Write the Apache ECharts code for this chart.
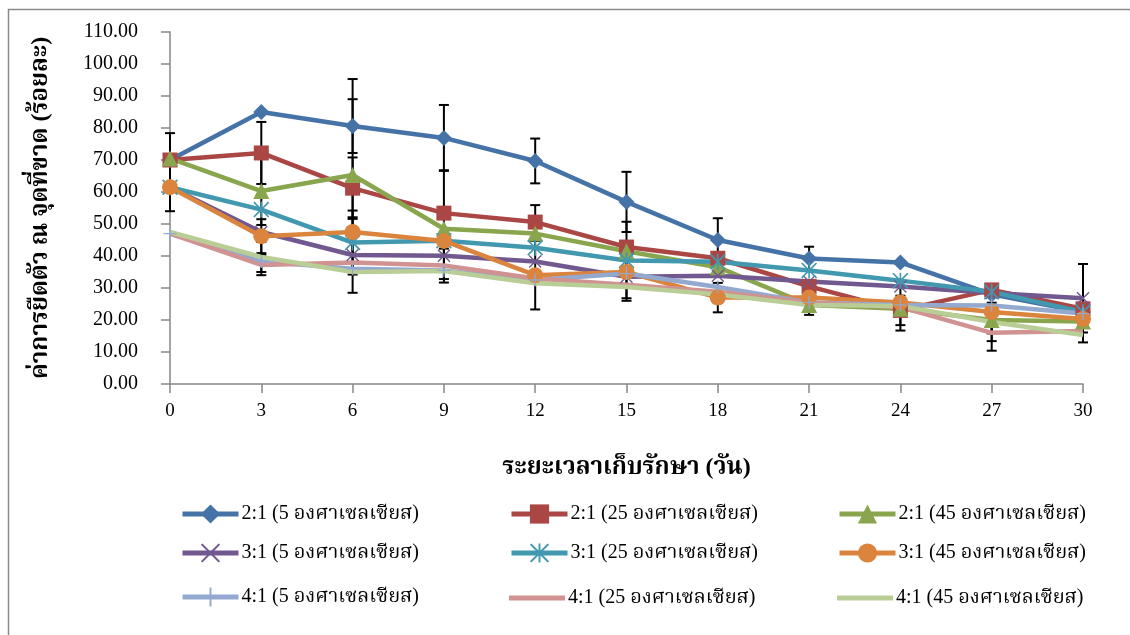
<!DOCTYPE html>
<html>
<head>
<meta charset="utf-8">
<script src="https://cdn.jsdelivr.net/npm/echarts@6/dist/echarts.min.js"></script>
<style>html,body{margin:0;padding:0;background:#fff}#c{width:1130px;height:635px}</style>
</head>
<body>
<div id="c"></div>
<script>
const days = ['0','3','6','9','12','15','18','21','24','27','30'];
const seriesNames = [
  '2:1 (5 องศาเซลเซียส)','2:1 (25 องศาเซลเซียส)','2:1 (45 องศาเซลเซียส)',
  '3:1 (5 องศาเซลเซียส)','3:1 (25 องศาเซลเซียส)','3:1 (45 องศาเซลเซียส)',
  '4:1 (5 องศาเซลเซียส)','4:1 (25 องศาเซลเซียส)','4:1 (45 องศาเซลเซียส)'
];
const r21_5  = [70, 85, 80.6, 76.9, 69.7, 56.9, 45, 39.2, 38, 28, 22.5];
const r21_25 = [70, 72.2, 61.2, 53.4, 50.6, 42.8, 39.3, 30.5, 23, 29.4, 23.5];
const r21_45 = [70.5, 60.3, 65.3, 48.5, 47, 41.5, 36.5, 24.7, 23.5, 20, 19.5];
const r31_5  = [61.5, 47.5, 40.3, 40.1, 38.3, 33.5, 33.8, 32, 30.5, 28.4, 26.8];
const r31_25 = [61.5, 54.5, 44.2, 44.8, 42.6, 38.6, 38.2, 35.5, 32.3, 28.8, 22.5];
const r31_45 = [61.5, 46.2, 47.5, 44.7, 34, 35, 27, 27, 25.5, 22.5, 20.3];
const r41_5  = [47, 38.3, 36, 35.5, 32.5, 34.5, 30.3, 25.5, 24.7, 24.5, 22];
const r41_25 = [47, 37.2, 38, 37, 33, 31, 28.8, 25.5, 24, 16, 16.6];
const r41_45 = [47.5, 39.7, 35, 35.3, 31.5, 30.3, 28, 24.7, 24.4, 19.4, 15.3];

// error bar half-widths (SD); null = not visible
const e21_5  = [8.4, null, 8.4, 10.3, 7, 9.4, 6.8, 3.7, null, null, null];
const e21_25 = [null, 9.7, 9.6, 13.4, 5.3, 7.9, null, null, 4.6, null, null];
const e21_45 = [null, 10.6, 30, null, null, null, null, 3.1, null, 4.2, null];
const e31_5  = [null, null, 11.8, 7.3, null, null, null, null, null, null, 10.7];
const e31_25 = [null, null, 10, null, null, null, null, null, null, null, null];
const e31_45 = [7.5, 5.3, null, null, 10.7, 8.2, 4.6, null, null, null, null];
const e41_5  = [null, null, null, null, null, null, null, null, null, null, null];
const e41_25 = [null, 3.2, null, 5.3, null, 5, null, null, null, 5.6, 3.6];
const e41_45 = [null, 4.7, null, null, null, null, null, null, 7.7, 6, null];

const yTicks = {min: 0, max: 110, interval: 10};

const values = [r21_5, r21_25, r21_45, r31_5, r31_25, r31_45, r41_5, r41_25, r41_45];
const errors = [e21_5, e21_25, e21_45, e31_5, e31_25, e31_45, e41_5, e41_25, e41_45];
const colors = ['#4572A7','#AA4643','#89A54E','#71588F','#4198AF','#DB843D','#93A9CF','#D19392','#B9CD96'];
const symX = 'path://M0,1.5 L1.5,0 L10,8.5 L18.5,0 L20,1.5 L11.5,10 L20,18.5 L18.5,20 L10,11.5 L1.5,20 L0,18.5 L8.5,10 Z';
const symAst = symX + ' M9,0 L11,0 L11,20 L9,20 Z';
const symPlus = 'path://M9,0 L11,0 L11,9 L20,9 L20,11 L11,11 L11,20 L9,20 L9,11 L0,11 L0,9 L9,9 Z';
const symbols = ['diamond','rect','triangle', symX, symAst, 'circle', symPlus, 'none', 'none'];
const symSizes = [16, 15, 16, 13, 16, 16, 13, 0, 0];

const serif = "'Liberation Serif','Times New Roman','Noto Serif Thai','Noto Sans Thai',serif";

const series = [];
values.forEach((vals, i) => {
  series.push({
    type: 'line', name: seriesNames[i], data: vals,
    symbol: symbols[i], symbolSize: symSizes[i], showSymbol: symbols[i] !== 'none',
    lineStyle: {color: colors[i], width: 4.5},
    itemStyle: {color: colors[i]},
    z: 3, animation: false
  });
});
values.forEach((vals, i) => {
  const d = [];
  errors[i].forEach((e, k) => { if (e != null) d.push([k, vals[k], e]); });
  if (!d.length) return;
  series.push({
    type: 'custom', name: 'err' + i, data: d, z: 2, animation: false, silent: true,
    renderItem: function (params, api) {
      const x = api.value(0), v = api.value(1), e = api.value(2);
      const t = api.coord([x, v + e]);
      const b = api.coord([x, v - e]);
      const hw = 5;
      const st = {stroke: '#000', lineWidth: 2};
      return {type: 'group', children: [
        {type: 'line', shape: {x1: t[0], y1: t[1], x2: b[0], y2: b[1]}, style: st},
        {type: 'line', shape: {x1: t[0]-hw, y1: t[1], x2: t[0]+hw, y2: t[1]}, style: st},
        {type: 'line', shape: {x1: b[0]-hw, y1: b[1], x2: b[0]+hw, y2: b[1]}, style: st}
      ]};
    }
  });
});

const colLeft = [180, 509, 837];
const rowTop = [504, 543, 587];
const legends = seriesNames.map((n, i) => {
  const noSym = symbols[i] === 'none';
  return {
    data: [n], left: colLeft[i % 3], top: rowTop[Math.floor(i / 3)] - (noSym ? 0 : 1),
    itemWidth: 56, itemHeight: noSym ? 5 : 24, padding: 0, itemGap: 0,
    icon: noSym ? 'rect' : undefined,
    lineStyle: {width: 5},
    textStyle: {fontFamily: serif, fontSize: 20, color: '#000', padding: [0,0,0,-2], lineHeight: 22}
  };
});

const chart = echarts.init(document.getElementById('c'), null, {renderer: 'canvas'});
chart.setOption({
  animation: false,
  backgroundColor: '#fff',
  graphic: [{type: 'rect', left: 6, top: 7, shape: {x: 0, y: 0, width: 1135, height: 640},
    style: {fill: 'none', stroke: '#8a8a8a', lineWidth: 1.5}, z: 0}],
  grid: {left: 170, right: 47, top: 32, bottom: 251},
  legend: legends,
  xAxis: {
    type: 'category', data: days, boundaryGap: false,
    name: 'ระยะเวลาเก็บรักษา (วัน)', nameLocation: 'middle', nameGap: 72,
    nameTextStyle: {fontFamily: serif, fontSize: 24, fontWeight: 'bold', color: '#000'},
    axisLine: {lineStyle: {color: '#868686', width: 1.5}},
    axisTick: {show: true, alignWithLabel: true, length: 9, lineStyle: {color: '#868686', width: 1.5}},
    axisLabel: {fontFamily: serif, fontSize: 19, color: '#000', margin: 18},
    splitLine: {show: false}
  },
  yAxis: {
    type: 'value', min: yTicks.min, max: yTicks.max, interval: yTicks.interval,
    name: 'ค่าการยืดตัว ณ จุดที่ขาด (ร้อยละ)', nameLocation: 'middle', nameGap: 117, nameRotate: 90,
    nameTextStyle: {fontFamily: serif, fontSize: 24, fontWeight: 'bold', color: '#000'},
    axisLine: {show: true, lineStyle: {color: '#868686', width: 1.5}},
    axisTick: {show: true, length: 9, lineStyle: {color: '#868686', width: 1.5}},
    axisLabel: {fontFamily: serif, fontSize: 20, color: '#000', margin: 32,
      formatter: v => v.toFixed(2)},
    splitLine: {show: false}
  },
  series: series
});
</script>
</body>
</html>
